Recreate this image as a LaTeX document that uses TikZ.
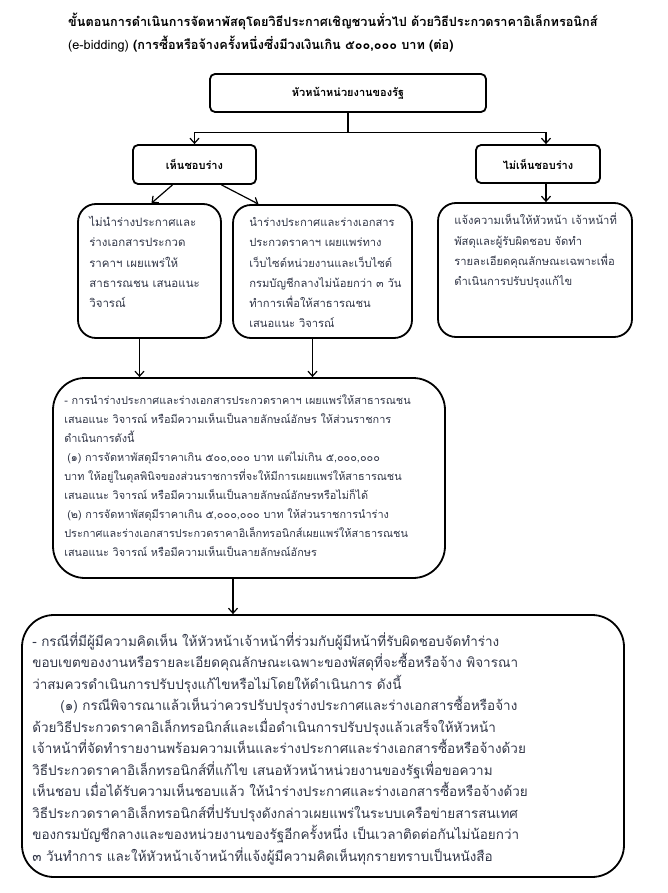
\documentclass[tikz,border=0pt]{standalone}
\usepackage{fontspec}
\setmainfont[Script=Thai]{Loma}
\usetikzlibrary{arrows.meta}
\definecolor{bodytext}{RGB}{50,55,72}
\tikzset{
  box/.style={draw=black, line width=1.8pt, rounded corners=5pt, inner sep=0pt},
  bigbox/.style={box, rounded corners=18pt},
  hugebox/.style={box, rounded corners=32pt},
  lbl/.style={font=\bfseries\fontsize{11}{13}\selectfont, text=black},
  body/.style={font=\fontsize{11.5}{20.3}\selectfont, text=bodytext, align=left, anchor=north west, inner sep=0pt},
  bodyB/.style={body, font=\fontsize{11.2}{20.3}\selectfont},
  bodyD/.style={body, font=\fontsize{10.9}{19}\selectfont},
  bodyE/.style={body, font=\fontsize{13.5}{21.5}\selectfont},
  conn/.style={line width=1.2pt, draw=black},
  arr/.style={conn, -{Straight Barb[length=5pt,width=9pt,line width=1.2pt]}},
  ttl/.style={font=\bfseries\fontsize{12.7}{16}\selectfont, anchor=west, inner sep=0pt}
}
\begin{document}
\begin{tikzpicture}[x=1pt,y=-1pt]
\useasboundingbox (0,0) rectangle (668,893);
% title
\node[ttl] (t1) at (68,21) {ขั้นตอนการดำเนินการจัดหาพัสดุโดยวิธีประกาศเชิญชวนทั่วไป ด้วยวิธีประกวดราคาอิเล็กทรอนิกส์};
\node[ttl] (t2) at (68,44) {{\mdseries (e-bidding)} (การซื้อหรือจ้างครั้งหนึ่งซึ่งมีวงเงินเกิน ๕๐๐,๐๐๐ บาท (ต่อ)};
% boxes
\node[box, minimum width=276pt, minimum height=38pt] (top) at (348,93) {};
\node[lbl] at (top.center) {หัวหน้าหน่วยงานของรัฐ};
\node[box, minimum width=123pt, minimum height=39pt] (yes) at (194.5,164.5) {};
\node[lbl] at (yes.center) {เห็นชอบร่าง};
\node[box, minimum width=124pt, minimum height=38pt] (no) at (538,164) {};
\node[lbl] at (no.center) {ไม่เห็นชอบร่าง};
\node[bigbox, minimum width=143pt, minimum height=134pt] (A) at (149.5,271) {};
\node[bigbox, minimum width=179pt, minimum height=133pt] (B) at (322.5,271.5) {};
\node[bigbox, minimum width=194pt, minimum height=134pt] (C) at (535,270) {};
\node[hugebox, minimum width=392pt, minimum height=200pt] (D) at (249,478) {};
\node[hugebox, minimum width=602pt, minimum height=262pt] (E) at (323,746) {};
% texts
\node[body] (At) at ([xshift=12pt,yshift=-13pt]A.north west) {ไม่นำร่างประกาศและ\\ร่างเอกสารประกวด\\ราคาฯ เผยแพร่ให้\\สาธารณชน เสนอแนะ\\วิจารณ์};
\node[bodyB] (Bt) at ([xshift=17pt,yshift=-13pt]B.north west) {นำร่างประกาศและร่างเอกสาร\\ประกวดราคาฯ เผยแพร่ทาง\\เว็บไซต์หน่วยงานและเว็บไซต์\\กรมบัญชีกลางไม่น้อยกว่า ๓ วัน\\ทำการเพื่อให้สาธารณชน\\เสนอแนะ วิจารณ์};
\node[bodyB] (Ct) at ([xshift=17pt,yshift=-11pt]C.north west) {แจ้งความเห็นให้หัวหน้า เจ้าหน้าที่\\พัสดุและผู้รับผิดชอบ จัดทำ\\รายละเอียดคุณลักษณะเฉพาะเพื่อ\\ดำเนินการปรับปรุงแก้ไข};
\node[bodyD] (Dt) at ([xshift=12pt,yshift=-17pt]D.north west) {- การนำร่างประกาศและร่างเอกสารประกวดราคาฯ เผยแพร่ให้สาธารณชน\\เสนอแนะ วิจารณ์ หรือมีความเห็นเป็นลายลักษณ์อักษร ให้ส่วนราชการ\\ดำเนินการดังนี้\\\hspace*{3pt}(๑) การจัดหาพัสดุมีราคาเกิน ๕๐๐,๐๐๐ บาท แต่ไม่เกิน ๕,๐๐๐,๐๐๐\\บาท ให้อยู่ในดุลพินิจของส่วนราชการที่จะให้มีการเผยแพร่ให้สาธารณชน\\เสนอแนะ วิจารณ์ หรือมีความเห็นเป็นลายลักษณ์อักษรหรือไม่ก็ได้\\\hspace*{3pt}(๒) การจัดหาพัสดุมีราคาเกิน ๕,๐๐๐,๐๐๐ บาท ให้ส่วนราชการนำร่าง\\ประกาศและร่างเอกสารประกวดราคาอิเล็กทรอนิกส์เผยแพร่ให้สาธารณชน\\เสนอแนะ วิจารณ์ หรือมีความเห็นเป็นลายลักษณ์อักษร};
\node[bodyE] (Et) at ([xshift=11pt,yshift=-18pt]E.north west) {- กรณีที่มีผู้มีความคิดเห็น ให้หัวหน้าเจ้าหน้าที่ร่วมกับผู้มีหน้าที่รับผิดชอบจัดทำร่าง\\ขอบเขตของงานหรือรายละเอียดคุณลักษณะเฉพาะของพัสดุที่จะซื้อหรือจ้าง พิจารณา\\ว่าสมควรดำเนินการปรับปรุงแก้ไขหรือไม่โดยให้ดำเนินการ ดังนี้\\\hspace*{28pt}(๑) กรณีพิจารณาแล้วเห็นว่าควรปรับปรุงร่างประกาศและร่างเอกสารซื้อหรือจ้าง\\ด้วยวิธีประกวดราคาอิเล็กทรอนิกส์และเมื่อดำเนินการปรับปรุงแล้วเสร็จให้หัวหน้า\\เจ้าหน้าที่จัดทำรายงานพร้อมความเห็นและร่างประกาศและร่างเอกสารซื้อหรือจ้างด้วย\\วิธีประกวดราคาอิเล็กทรอนิกส์ที่แก้ไข เสนอหัวหน้าหน่วยงานของรัฐเพื่อขอความ\\เห็นชอบ เมื่อได้รับความเห็นชอบแล้ว ให้นำร่างประกาศและร่างเอกสารซื้อหรือจ้างด้วย\\วิธีประกวดราคาอิเล็กทรอนิกส์ที่ปรับปรุงดังกล่าวเผยแพร่ในระบบเครือข่ายสารสนเทศ\\ของกรมบัญชีกลางและของหน่วยงานของรัฐอีกครั้งหนึ่ง เป็นเวลาติดต่อกันไม่น้อยกว่า\\๓ วันทำการ และให้หัวหน้าเจ้าหน้าที่แจ้งผู้มีความคิดเห็นทุกรายทราบเป็นหนังสือ};
% connectors
\coordinate (j) at ([yshift=-20pt]top.south);
\draw[conn] (top.south) -- (j);
\draw[arr] (j) -| (yes.north);
\draw[arr] (j) -| ([xshift=8pt]no.north);
\draw[arr] ([xshift=8pt]no.south) -- ([xshift=8pt]no.south |- C.north);
\draw[arr] ([xshift=-22pt]yes.south) -- ([xshift=2pt]A.north);
\draw[arr] ([xshift=27pt]yes.south) -- ([xshift=-64pt]B.north);
\draw[arr] ([xshift=-10pt]A.south) -- ([xshift=-10pt]A.south |- D.north);
\draw[arr] ([xshift=-10pt]B.south) -- ([xshift=-10pt]B.south |- D.north);
\draw[arr] ([xshift=-16pt]D.south) -- ([xshift=-16pt]D.south |- E.north);
\end{tikzpicture}
\end{document}
